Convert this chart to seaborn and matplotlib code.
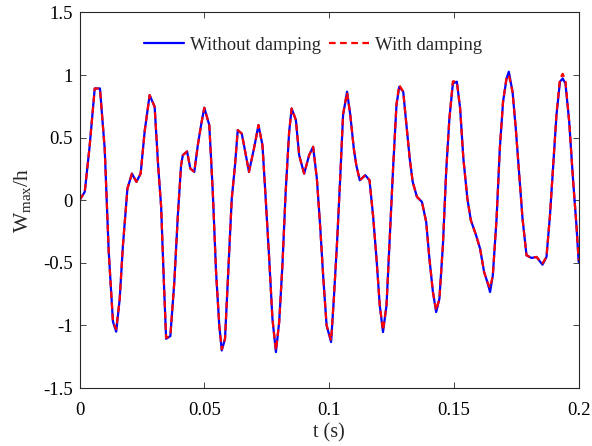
import numpy as np
import pandas as pd
import matplotlib
matplotlib.use("Agg")
import matplotlib.pyplot as plt
import seaborn as sns

# ---- data ----
t = [0.0000, 0.0021, 0.0040, 0.0061, 0.0082, 0.0101, 0.0117, 0.0134, 0.0147, 0.0161,
     0.0174, 0.0192, 0.0210, 0.0228, 0.0245, 0.0261, 0.0281, 0.0301, 0.0315, 0.0327,
     0.0337, 0.0347, 0.0364, 0.0380, 0.0394, 0.0407, 0.0414, 0.0431, 0.0444, 0.0460,
     0.0474, 0.0487, 0.0500, 0.0520, 0.0534, 0.0547, 0.0560, 0.0570, 0.0583, 0.0594,
     0.0610, 0.0623, 0.0634, 0.0650, 0.0659, 0.0679, 0.0699, 0.0717, 0.0733, 0.0746,
     0.0760, 0.0773, 0.0787, 0.0800, 0.0813, 0.0826, 0.0840, 0.0850, 0.0867, 0.0880,
     0.0900, 0.0920, 0.0936, 0.0951, 0.0964, 0.0977, 0.0990, 0.1008, 0.1019, 0.1032,
     0.1045, 0.1056, 0.1072, 0.1085, 0.1099, 0.1109, 0.1123, 0.1145, 0.1162, 0.1176,
     0.1190, 0.1203, 0.1216, 0.1230, 0.1243, 0.1257, 0.1270, 0.1281, 0.1297, 0.1310,
     0.1323, 0.1335, 0.1352, 0.1372, 0.1389, 0.1402, 0.1416, 0.1429, 0.1442, 0.1456,
     0.1469, 0.1482, 0.1496, 0.1512, 0.1525, 0.1538, 0.1554, 0.1568, 0.1589, 0.1605,
     0.1621, 0.1634, 0.1645, 0.1656, 0.1671, 0.1684, 0.1697, 0.1711, 0.1720, 0.1735,
     0.1748, 0.1762, 0.1775, 0.1791, 0.1811, 0.1831, 0.1855, 0.1871, 0.1885, 0.1898,
     0.1911, 0.1925, 0.1936, 0.1947, 0.1962, 0.1978, 0.1991, 0.2000]

w_without = [0.000, 0.067, 0.420, 0.893, 0.893, 0.410, -0.410, -0.970, -1.050, -0.790,
             -0.360, 0.093, 0.213, 0.147, 0.213, 0.550, 0.840, 0.747, 0.280, -0.050,
             -0.600, -1.107, -1.085, -0.650, -0.120, 0.280, 0.360, 0.390, 0.253, 0.227,
             0.440, 0.600, 0.739, 0.600, 0.067, -0.570, -1.000, -1.200, -1.107, -0.650,
             0.013, 0.280, 0.560, 0.533, 0.440, 0.227, 0.413, 0.600, 0.440, 0.013,
             -0.467, -0.947, -1.213, -0.973, -0.520, 0.067, 0.547, 0.733, 0.640, 0.360,
             0.213, 0.360, 0.427, 0.173, -0.200, -0.627, -1.000, -1.133, -0.787, -0.333,
             0.200, 0.680, 0.867, 0.680, 0.413, 0.280, 0.160, 0.200, 0.160, -0.120,
             -0.467, -0.840, -1.053, -0.840, -0.307, 0.280, 0.760, 0.907, 0.867, 0.600,
             0.333, 0.147, 0.027, -0.013, -0.173, -0.467, -0.733, -0.893, -0.787, -0.360,
             0.227, 0.653, 0.933, 0.947, 0.733, 0.333, 0.013, -0.160, -0.280, -0.387,
             -0.573, -0.653, -0.733, -0.600, -0.147, 0.413, 0.787, 0.973, 1.027, 0.867,
             0.573, 0.200, -0.147, -0.440, -0.461, -0.453, -0.515, -0.453, -0.120, 0.280,
             0.680, 0.947, 0.973, 0.933, 0.627, 0.147, -0.200, -0.493]

w_with = [0.000, 0.067, 0.420, 0.893, 0.893, 0.410, -0.410, -0.970, -1.030, -0.790,
          -0.360, 0.093, 0.213, 0.147, 0.213, 0.550, 0.840, 0.747, 0.280, -0.050,
          -0.600, -1.100, -1.080, -0.650, -0.120, 0.280, 0.360, 0.390, 0.253, 0.227,
          0.440, 0.600, 0.739, 0.600, 0.067, -0.570, -1.000, -1.190, -1.107, -0.650,
          0.013, 0.280, 0.560, 0.533, 0.440, 0.227, 0.413, 0.600, 0.440, 0.013,
          -0.467, -0.947, -1.200, -0.973, -0.520, 0.067, 0.547, 0.733, 0.640, 0.360,
          0.213, 0.360, 0.427, 0.173, -0.200, -0.627, -1.000, -1.120, -0.787, -0.333,
          0.200, 0.690, 0.860, 0.680, 0.413, 0.280, 0.160, 0.200, 0.160, -0.120,
          -0.467, -0.840, -1.040, -0.840, -0.307, 0.280, 0.770, 0.920, 0.867, 0.600,
          0.333, 0.147, 0.027, -0.013, -0.173, -0.467, -0.733, -0.880, -0.787, -0.360,
          0.227, 0.653, 0.950, 0.947, 0.733, 0.333, 0.013, -0.160, -0.280, -0.387,
          -0.573, -0.653, -0.700, -0.600, -0.147, 0.413, 0.787, 0.980, 1.000, 0.867,
          0.573, 0.200, -0.147, -0.440, -0.461, -0.453, -0.505, -0.453, -0.120, 0.280,
          0.690, 0.970, 1.010, 0.950, 0.627, 0.147, -0.200, -0.480]

series_names = ["Without damping", "With damping"]
xtick_vals = [0, 0.05, 0.1, 0.15, 0.2]
xtick_labels = ["0", "0.05", "0.1", "0.15", "0.2"]
ytick_vals = [-1.5, -1, -0.5, 0, 0.5, 1, 1.5]
ytick_labels = ["-1.5", "-1", "-0.5", "0", "0.5", "1", "1.5"]

# ---- styling ----
sns.set_style("white")
plt.rcParams["font.family"] = ["Liberation Serif", "DejaVu Serif"]
plt.rcParams["mathtext.default"] = "regular"
plt.rcParams["axes.unicode_minus"] = False

fig = plt.figure(figsize=(5.92, 4.46), dpi=100)
ax = fig.add_axes([0.1343, 0.130, 0.9775 - 0.1343, 0.972 - 0.130])

df1 = pd.DataFrame({"t": t, "w": w_without})
df2 = pd.DataFrame({"t": t, "w": w_with})
sns.lineplot(data=df1, x="t", y="w", ax=ax, color="#0000ff", lw=1.6,
             sort=False, estimator=None, label=series_names[0])
sns.lineplot(data=df2, x="t", y="w", ax=ax, color="#ff0000", lw=1.6,
             sort=False, estimator=None, label=series_names[1], dashes=False)
ax.lines[1].set_dashes([3.0, 2.0])

ax.set_xlim(0, 0.2)
ax.set_ylim(-1.5, 1.5)
ax.set_xticks(xtick_vals)
ax.set_xticklabels(xtick_labels)
ax.set_yticks(ytick_vals)
ax.set_yticklabels(ytick_labels)
ax.tick_params(direction="in", length=4, width=0.6, colors="#262626",
               labelcolor="black", labelsize=13.5, top=True, right=True,
               bottom=True, left=True)
ax.tick_params(axis="x", pad=10)
ax.tick_params(axis="y", pad=5)
for sp in ax.spines.values():
    sp.set_visible(True)
    sp.set_color("#262626")
    sp.set_linewidth(0.8)

ax.set_xlabel("t (s)", fontsize=14.5, labelpad=3)
ax.set_ylabel("W$_{max}$/h", fontsize=15.5, labelpad=7)

leg = ax.legend(loc="center", bbox_to_anchor=(0.468, 0.913), ncol=2,
                frameon=False, fontsize=13.5, handlelength=2.15,
                handletextpad=0.3, columnspacing=0.45)

fig.savefig("out.png", dpi=100)
